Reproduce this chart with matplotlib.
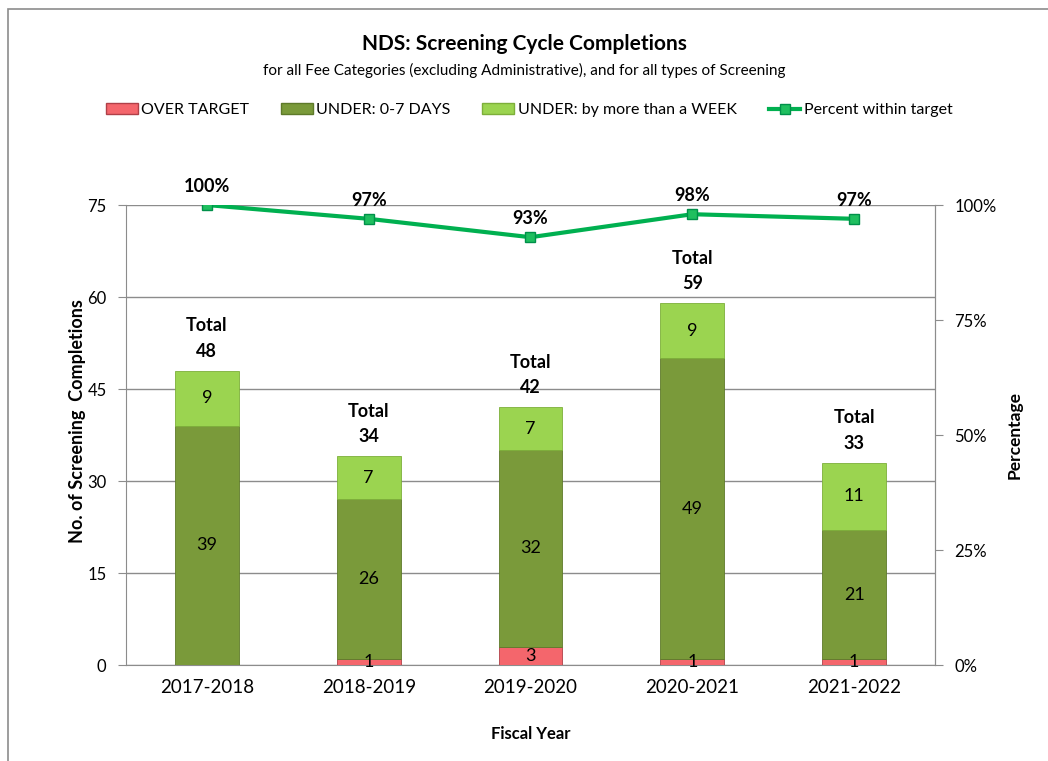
import numpy as np
import matplotlib
matplotlib.use("Agg")
import matplotlib.pyplot as plt
from matplotlib.patches import Rectangle
from matplotlib.lines import Line2D

plt.rcParams["font.family"] = ["Lato", "DejaVu Sans"]

years = ["2017-2018", "2018-2019", "2019-2020", "2020-2021", "2021-2022"]
over_target = [0, 1, 3, 1, 1]
under_0_7 = [39, 26, 32, 49, 21]
under_week = [9, 7, 7, 9, 11]
pct_within = [100, 97, 93, 98, 97]

RED = "#F4666C"
DARK = "#7A9A3A"
LIGHT = "#9BD450"
LINE = "#00B050"
GRID = "#8C8C8C"

fig = plt.figure(figsize=(10.48, 7.61), dpi=100)
ax = fig.add_axes([0.1202, 0.1261, 0.7720, 0.6045])

x = np.arange(len(years))
w = 0.395
over = np.array(over_target)
mid = np.array(under_0_7)
top = np.array(under_week)

ax.bar(x, over, w, color=RED, edgecolor="#B04048", linewidth=0.6, zorder=3)
ax.bar(x, mid, w, bottom=over, color=DARK, edgecolor="#5E7A2A", linewidth=0.6, zorder=3)
ax.bar(x, top, w, bottom=over + mid, color=LIGHT, edgecolor="#7DAF3A", linewidth=0.6, zorder=3)

# segment labels
for i in range(len(x)):
    if over[i] > 0:
        ax.text(x[i], over[i] / 2, str(over[i]), ha="center", va="center", fontsize=13, zorder=5)
    ax.text(x[i], over[i] + mid[i] / 2, str(mid[i]), ha="center", va="center", fontsize=13, zorder=5)
    ax.text(x[i], over[i] + mid[i] + top[i] / 2, str(top[i]), ha="center", va="center", fontsize=13, zorder=5)
    total = over[i] + mid[i] + top[i]
    ax.annotate("Total\n%d" % total, (x[i], total), xytext=(0, 8), textcoords="offset points",
                ha="center", va="bottom", fontsize=13, fontweight="bold", linespacing=1.6, zorder=5)

ax.set_xlim(-0.5, len(x) - 0.5)
ax.set_ylim(0, 75)
ax.set_yticks([0, 15, 30, 45, 60, 75])
ax.yaxis.grid(True, color=GRID, linewidth=1)
ax.set_axisbelow(True)
ax.set_xticks(x)
ax.set_xticklabels(years, fontsize=13.5)
ax.tick_params(axis="x", length=0, pad=10)
ax.tick_params(axis="y", labelsize=12, length=6, color=GRID, direction="out", pad=8)
ax.spines["top"].set_visible(False)
for s in ["left", "right", "bottom"]:
    ax.spines[s].set_color(GRID)
ax.set_ylabel("No. of Screening  Completions", fontsize=13, fontweight="bold")
ax.yaxis.set_label_coords(-0.05, 0.53)
ax.set_xlabel("Fiscal Year", fontsize=12, fontweight="bold", labelpad=22)

ax2 = ax.twinx()
ax2.set_ylim(0, 100)
ax2.set_yticks([0, 25, 50, 75, 100])
ax2.set_yticklabels(["0%", "25%", "50%", "75%", "100%"])
ax2.tick_params(axis="y", labelsize=12, length=6, color=GRID, direction="out", pad=8)
for s in ["top", "left", "bottom"]:
    ax2.spines[s].set_visible(False)
ax2.spines["right"].set_color(GRID)
ax2.plot(x, pct_within, color=LINE, linewidth=3, marker="s", markersize=7,
         markerfacecolor="#1FBF5F", markeredgecolor="#00904A", zorder=6)
for i, p in enumerate(pct_within):
    ax2.annotate("%d%%" % p, (x[i], p), xytext=(0, 7), textcoords="offset points",
                 ha="center", va="bottom", fontsize=13, fontweight="bold")
ax2.set_ylabel("Percentage", fontsize=12.5, fontweight="bold")
ax2.yaxis.set_label_coords(1.088, 0.5)

fig.text(0.5, 0.942, "NDS: Screening Cycle Completions", ha="center", va="center",
         fontsize=15, fontweight="bold")
fig.text(0.5, 0.908, "for all Fee Categories (excluding Administrative), and for all types of Screening",
         ha="center", va="center", fontsize=11)

handles = [
    Rectangle((0, 0), 1, 1, facecolor=RED, edgecolor="#B04048"),
    Rectangle((0, 0), 1, 1, facecolor=DARK, edgecolor="#5E7A2A"),
    Rectangle((0, 0), 1, 1, facecolor=LIGHT, edgecolor="#7DAF3A"),
    Line2D([0], [0], color=LINE, linewidth=3, marker="s", markersize=7,
           markerfacecolor="#1FBF5F", markeredgecolor="#00904A"),
]
labels = ["OVER TARGET", "UNDER: 0-7 DAYS", "UNDER: by more than a WEEK", "Percent within target"]
fig.legend(handles, labels, loc="center", bbox_to_anchor=(0.505, 0.855), ncol=4, frameon=False,
           fontsize=11.5, handlelength=2.0, handleheight=0.7, handletextpad=0.2, columnspacing=2.0)

# chart area border (only left/top visible in the reference)
fig.patches.append(Rectangle((8 / 1048, -0.1), 1.2, 1 - 9 / 761 + 0.1, transform=fig.transFigure,
                             fill=False, edgecolor="#8C8C8C", linewidth=1.2))

fig.savefig("out.png", dpi=100)
